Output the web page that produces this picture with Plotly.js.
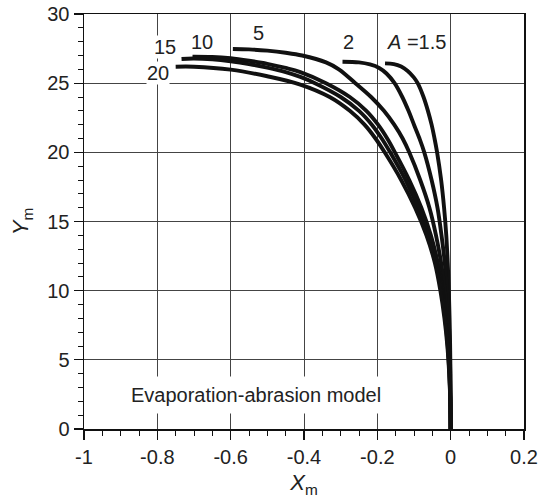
<!DOCTYPE html>
<html>
<head>
<meta charset="utf-8">
<script src="https://cdn.plot.ly/plotly-3.0.1.min.js"></script>
<style>html,body{margin:0;padding:0;background:#fff;}#chart{width:538px;height:501px;}</style>
</head>
<body>
<div id="chart"></div>
<script>
// Curve data (Xm, Ym) for each A value
const curveNames = ["1.5", "2", "5", "10", "15", "20"];
const x_A1_5 = [-0.179,-0.155,-0.135,-0.118,-0.1,-0.09,-0.074,-0.062,-0.052,-0.044,-0.037,-0.026,-0.018,-0.012,-0.008,-0.005,-0.003,-0.0015,-0.0006,-0.0001,0];
const y_A1_5 = [26.43,26.38,26.2,25.9,25.4,25.0,24,23,22,21,20,18,16,14,12,10,8,6,4,2,0];
const x_A2 = [-0.295,-0.25,-0.22,-0.195,-0.175,-0.153,-0.132,-0.115,-0.1,-0.085,-0.072,-0.052,-0.036,-0.025,-0.016,-0.01,-0.0055,-0.0028,-0.0011,-0.0003,0];
const y_A2 = [26.55,26.5,26.35,26.1,25.7,25,24,23,22,21,20,18,16,14,12,10,8,6,4,2,0];
const x_A5 = [-0.594,-0.55,-0.5,-0.45,-0.405,-0.34,-0.305,-0.26,-0.217,-0.182,-0.154,-0.131,-0.113,-0.083,-0.058,-0.04,-0.026,-0.016,-0.009,-0.005,-0.002,-0.0005,0];
const y_A5 = [27.47,27.44,27.35,27.2,27.0,26.5,26,25,24,23,22,21,20,18,16,14,12,10,8,6,4,2,0];
const x_A10 = [-0.704,-0.65,-0.6,-0.55,-0.5,-0.45,-0.41,-0.34,-0.275,-0.23,-0.198,-0.173,-0.152,-0.113,-0.08,-0.054,-0.035,-0.022,-0.013,-0.007,-0.003,-0.001,0];
const y_A10 = [26.92,26.9,26.8,26.62,26.4,26.1,25.8,25,24,23,22,21,20,18,16,14,12,10,8,6,4,2,0];
const x_A15 = [-0.734,-0.7,-0.65,-0.6,-0.55,-0.5,-0.45,-0.41,-0.37,-0.3,-0.25,-0.215,-0.188,-0.165,-0.123,-0.088,-0.06,-0.039,-0.025,-0.015,-0.008,-0.0035,-0.001,0];
const y_A15 = [26.75,26.78,26.72,26.58,26.38,26.12,25.8,25.45,25,24,23,22,21,20,18,16,14,12,10,8,6,4,2,0];
const x_A20 = [-0.75,-0.7,-0.6,-0.5,-0.41,-0.33,-0.275,-0.235,-0.205,-0.18,-0.135,-0.097,-0.066,-0.043,-0.028,-0.017,-0.009,-0.004,-0.001,0];
const y_A20 = [26.19,26.19,25.98,25.5,24.9,24,23,22,21,20,18,16,14,12,10,8,6,4,2,0];

// Curve labels
const labelText = ["<i>A</i> =1.5", "2", "5", "10", "15", "20"];
const labelX = [-0.092, -0.28, -0.525, -0.677, -0.779, -0.798];
const labelY = [28.0, 28.0, 28.66, 28.0, 27.6, 25.7];

// Axis ticks
const xTickVals = [-1, -0.8, -0.6, -0.4, -0.2, 0, 0.2];
const xTickText = ["-1", "-0.8", "-0.6", "-0.4", "-0.2", "0", "0.2"];
const yTickVals = [0, 5, 10, 15, 20, 25, 30];
const yTickText = ["0", "5", "10", "15", "20", "25", "30"];

const noteText = "Evaporation-abrasion model";

const xs = [x_A1_5, x_A2, x_A5, x_A10, x_A15, x_A20];
const ys = [y_A1_5, y_A2, y_A5, y_A10, y_A15, y_A20];

const FONT = "Liberation Sans, Arial, Helvetica, sans-serif";
const traces = xs.map((x, i) => ({
  x: x, y: ys[i], type: "scatter", mode: "lines", name: "A=" + curveNames[i],
  line: {color: "#111", width: 3.9, shape: "spline", smoothing: 1},
  hoverinfo: "skip"
}));

const annotations = labelText.map((t, i) => ({
  x: labelX[i], y: labelY[i], xref: "x", yref: "y", text: t, showarrow: false,
  font: {family: FONT, size: 20, color: "#222"}, bgcolor: "#fff", borderpad: 0
}));
annotations.push({
  x: -0.532, y: 2.46, xref: "x", yref: "y", text: noteText, showarrow: false,
  font: {family: FONT, size: 20, color: "#222"}, bgcolor: "#fff", borderpad: 7
});

const layout = {
  width: 538, height: 501,
  margin: {l: 84, r: 14, t: 14, b: 72},
  paper_bgcolor: "#fff", plot_bgcolor: "#fff",
  showlegend: false,
  font: {family: FONT, size: 20, color: "#222"},
  xaxis: {
    range: [-1, 0.2], tickmode: "array", tickvals: xTickVals, ticktext: xTickText,
    showline: true, linecolor: "#111", linewidth: 1.5, mirror: true,
    ticks: "outside", ticklen: 9, tickwidth: 1.2, tickcolor: "#111",
    showgrid: true, gridcolor: "#444", gridwidth: 1, zeroline: false,
    tickfont: {family: FONT, size: 20, color: "#222"},
    minor: {tickmode: "linear", tick0: 0, dtick: 0.05, ticks: "outside", ticklen: 5, tickwidth: 1, tickcolor: "#111", showgrid: false},
    title: {text: "<i>X</i><sub>m</sub>", font: {family: FONT, size: 22, color: "#222"}, standoff: 8}
  },
  yaxis: {
    range: [0, 30], tickmode: "array", tickvals: yTickVals, ticktext: yTickText,
    showline: true, linecolor: "#111", linewidth: 1.5, mirror: true,
    ticks: "outside", ticklen: 9, tickwidth: 1.2, tickcolor: "#111",
    showgrid: true, gridcolor: "#444", gridwidth: 1, zeroline: false,
    tickfont: {family: FONT, size: 20, color: "#222"},
    minor: {tickmode: "linear", tick0: 0, dtick: 1, ticks: "outside", ticklen: 5, tickwidth: 1, tickcolor: "#111", showgrid: false},
    title: {text: "<i>Y</i><sub>m</sub>", font: {family: FONT, size: 22, color: "#222"}, standoff: 12}
  },
  annotations: annotations
};

Plotly.newPlot("chart", traces, layout, {displayModeBar: false, staticPlot: true});
</script>
</body>
</html>
